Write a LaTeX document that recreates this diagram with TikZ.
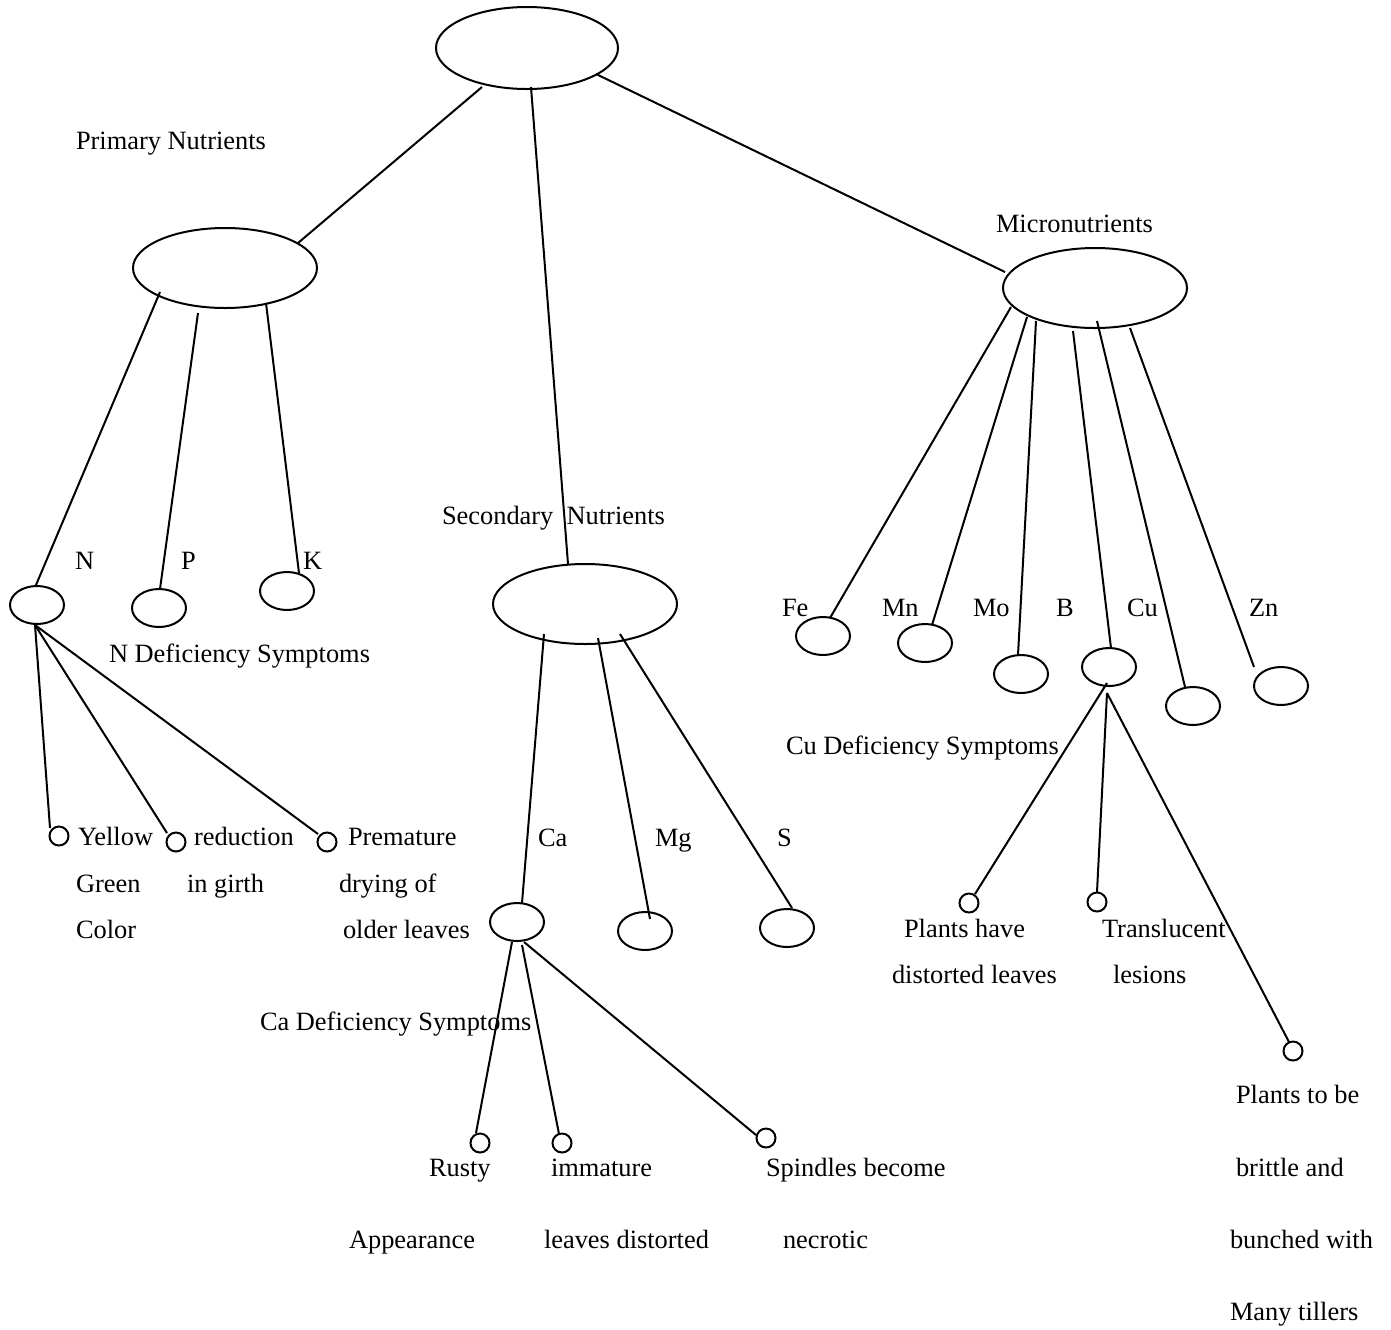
\documentclass[tikz,border=0pt]{standalone}
\usepackage{fontspec}
\setmainfont{Liberation Serif}
\usetikzlibrary{shapes.geometric}
\begin{document}
\begin{tikzpicture}[x=0.5pt,y=-0.5pt,line width=1pt,
  big/.style={draw,ellipse,inner sep=0pt,minimum width=92pt,minimum height=40pt},
  mid/.style={draw,ellipse,inner sep=0pt,minimum width=27pt,minimum height=19pt},
  dot/.style={draw,circle,inner sep=0pt,minimum size=9.5pt},
  lbl/.style={anchor=base west,inner sep=0pt,font=\fontsize{13.2}{16}\selectfont}]
\useasboundingbox (0,0) rectangle (1391,1329);
% ellipses
\node[big,minimum width=91pt,minimum height=41pt] (top) at (527,48) {};
\node[big] (prim) at (225,268) {};
\node[big] (sec) at (585,604) {};
\node[big] (micro) at (1095,288) {};
\node[mid] (N) at (37,605) {};
\node[mid] (P) at (159,608) {};
\node[mid] (K) at (287,591) {};
\node[mid] (Ca) at (517,922) {};
\node[mid] (Mg) at (645,931) {};
\node[mid] (S) at (787,928) {};
\node[mid] (Fe) at (823,636) {};
\node[mid] (Mn) at (925,643) {};
\node[mid] (Mo) at (1021,674) {};
\node[mid] (Cu) at (1109,667) {};
\node[mid] (Bx) at (1193,706) {};
\node[mid] (Zn) at (1281,686) {};
\node[dot] (L1) at (59,836) {};
\node[dot] (L2) at (176,842) {};
\node[dot] (L3) at (327,842) {};
\node[dot] (R1) at (480,1143) {};
\node[dot] (R2) at (562,1143) {};
\node[dot] (R3) at (766,1138) {};
\node[dot] (C1) at (969,903) {};
\node[dot] (C2) at (1097,902) {};
\node[dot] (C3) at (1293,1051) {};
% connectors
\draw ([shift={(-45,39)}]top.center) -- ([shift={(73,-25)}]prim.center);
\draw ([shift={(4,39)}]top.center) -- ([shift={(-17,-40)}]sec.center);
\draw ([shift={(69,26)}]top.center) -- ([shift={(-90,-16)}]micro.center);
\draw ([shift={(-65,24)}]prim.center) -- ([shift={(-1,-20)}]N.center);
\draw ([shift={(-27,45)}]prim.center) -- ([shift={(1,-19)}]P.center);
\draw ([shift={(41,35)}]prim.center) -- ([shift={(12,-18)}]K.center);
\draw ([shift={(-2,20)}]N.center) -- ([shift={(-9,-8)}]L1.center);
\draw ([shift={(-2,20)}]N.center) -- ([shift={(-9,-9)}]L2.center);
\draw ([shift={(-2,20)}]N.center) -- ([shift={(-9,-8)}]L3.center);
\draw ([shift={(-41,30)}]sec.center) -- ([shift={(5,-19)}]Ca.center);
\draw ([shift={(13,34)}]sec.center) -- ([shift={(5,-12)}]Mg.center);
\draw ([shift={(35,30)}]sec.center) -- ([shift={(5,-20)}]S.center);
\draw ([shift={(-5,20)}]Ca.center) -- ([shift={(-4,-10)}]R1.center);
\draw ([shift={(5,23)}]Ca.center) -- ([shift={(-3,-9)}]R2.center);
\draw ([shift={(7,20)}]Ca.center) -- ([shift={(-10,-3)}]R3.center);
\draw ([shift={(-84,19)}]micro.center) -- ([shift={(7,-18)}]Fe.center);
\draw ([shift={(-68,29)}]micro.center) -- ([shift={(7,-18)}]Mn.center);
\draw ([shift={(-59,33)}]micro.center) -- ([shift={(-3,-19)}]Mo.center);
\draw ([shift={(-22,43)}]micro.center) -- ([shift={(2,-19)}]Cu.center);
\draw ([shift={(2,33)}]micro.center) -- ([shift={(-8,-19)}]Bx.center);
\draw ([shift={(35,40)}]micro.center) -- ([shift={(-27,-19)}]Zn.center);
\draw ([shift={(-2,16)}]Cu.center) -- ([shift={(6,-9)}]C1.center);
\draw ([shift={(-2,26)}]Cu.center) -- ([shift={(0,-10)}]C2.center);
\draw ([shift={(-2,26)}]Cu.center) -- ([shift={(-4,-9)}]C3.center);
% labels
\node[lbl] (tPrim) at (75,149) {Primary Nutrients};
\node[lbl] (tMicro) at (995,232) {Micronutrients};
\node[lbl] (tSec) at (441,524) {Secondary\ \ Nutrients};
\node[lbl] (tN) at (74,569) {N};
\node[lbl] (tP) at (180,569) {P};
\node[lbl] (tK) at (302,569) {K};
\node[lbl] (tND) at (108,662) {N Deficiency Symptoms};
\node[lbl] (y1) at (77,845) {Yellow};
\node[lbl] (y2) at (75,892) {Green};
\node[lbl] (y3) at (75,938) {Color};
\node[lbl] (g1) at (193,845) {reduction};
\node[lbl] (g2) at (186,892) {in girth};
\node[lbl] (p1) at (347,845) {Premature};
\node[lbl] (p2) at (338,892) {drying of};
\node[lbl] (p3) at (342,938) {older leaves};
\node[lbl] (tCa) at (537,846) {Ca};
\node[lbl] (tMg) at (654,846) {Mg};
\node[lbl] (tS) at (776,846) {S};
\node[lbl] (tCaD) at (259,1030) {Ca Deficiency Symptoms};
\node[lbl] (r1) at (428,1176) {Rusty};
\node[lbl] (r2) at (348,1248) {Appearance};
\node[lbl] (i1) at (550,1176) {immature};
\node[lbl] (i2) at (543,1248) {leaves distorted};
\node[lbl] (s1) at (765,1176) {Spindles become};
\node[lbl] (s2) at (782,1248) {necrotic};
\node[lbl] (tFe) at (781,616) {Fe};
\node[lbl] (tMn) at (881,616) {Mn};
\node[lbl] (tMo) at (972,616) {Mo};
\node[lbl] (tB) at (1055,616) {B};
\node[lbl] (tCu) at (1126,616) {Cu};
\node[lbl] (tZn) at (1248,616) {Zn};
\node[lbl] (tCuD) at (785,754) {Cu Deficiency Symptoms};
\node[lbl] (c1a) at (903,937) {Plants have};
\node[lbl] (c1b) at (891,983) {distorted leaves};
\node[lbl] (c2a) at (1101,937) {Translucent};
\node[lbl] (c2b) at (1112,983) {lesions};
\node[lbl] (c3a) at (1235,1103) {Plants to be};
\node[lbl] (c3b) at (1235,1176) {brittle and};
\node[lbl] (c3c) at (1229,1248) {bunched with};
\node[lbl] (c3d) at (1229,1320) {Many tillers};
\end{tikzpicture}
\end{document}
